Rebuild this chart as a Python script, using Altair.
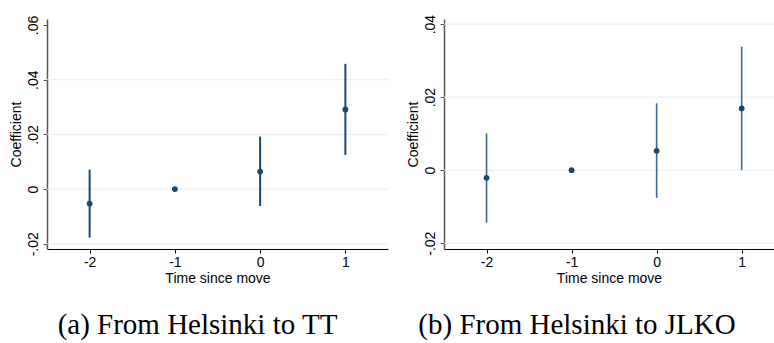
import altair as alt
import pandas as pd

# ---- data ----
periods = [-2, -1, 0, 1]

left_coef = [-0.0053, 0.0, 0.0064, 0.0291]
left_lo = [-0.0177, 0.0, -0.0062, 0.0125]
left_hi = [0.0071, 0.0, 0.0192, 0.0458]

right_coef = [-0.0021, 0.0, 0.0053, 0.0169]
right_lo = [-0.0144, 0.0, -0.0076, 0.0000]
right_hi = [0.0101, 0.0, 0.0183, 0.0338]

left_yticks = [-0.02, 0, 0.02, 0.04, 0.06]
left_grid = [-0.02, 0, 0.02, 0.04]
right_yticks = [-0.02, 0, 0.02, 0.04]
right_grid = [-0.02, 0, 0.02, 0.04]
xticks = [-2, -1, 0, 1]

left_caption = "(a) From Helsinki to TT"
right_caption = "(b) From Helsinki to JLKO"

NAVY = "#1a476f"
SANS = "Liberation Sans"
SERIF = "Liberation Serif"

ylabel_expr = ("datum.value == 0 ? '0' : (datum.value < 0 ? '-' : '') + "
               "replace(format(abs(datum.value), '.2f'), '0.', '.')")
xlabel_expr = "(datum.value < 0 ? '-' : '') + format(abs(datum.value), 'd')"


def panel(coef, lo, hi, ydom, yticks, grid_vals, xdom, width, caption, cap_dx,
          rule_color, rule_w):
    df = pd.DataFrame({"t": periods, "b": coef, "lo": lo, "hi": hi})
    gdf = pd.DataFrame({"g": grid_vals})
    xs = alt.Scale(domain=xdom, nice=False, zero=False)
    ys = alt.Scale(domain=ydom, nice=False, zero=False)

    yaxis = alt.Axis(
        values=yticks,
        labelExpr=ylabel_expr,
        title="Coefficient",
        grid=False,
        domainColor="#555555",
        domainWidth=1.5,
        tickColor="#555555",
        tickSize=4,
        labelAngle=270,
        labelAlign="center",
        labelBaseline="bottom",
        labelFontSize=14,
        labelPadding=3,
        titleFontSize=14,
        titlePadding=3,
        titleFontWeight="normal",
    )
    xaxis = alt.Axis(
        values=xticks,
        labelExpr=xlabel_expr,
        title="Time since move",
        grid=False,
        domainColor="#000000",
        tickColor="#000000",
        tickSize=4,
        labelFontSize=14,
        labelPadding=2,
        titleFontSize=14,
        titlePadding=2,
        titleFontWeight="normal",
    )

    grid = alt.Chart(gdf).mark_rule(color="#e6eef1", strokeWidth=1).encode(
        y=alt.Y("g:Q", scale=ys, axis=yaxis)
    )
    rules = alt.Chart(df).mark_rule(color=rule_color, strokeWidth=rule_w).encode(
        x=alt.X("t:Q", scale=xs, axis=xaxis),
        y=alt.Y("lo:Q", scale=ys, axis=yaxis),
        y2="hi:Q",
    )
    pts = alt.Chart(df).mark_circle(color=NAVY, opacity=1, size=34).encode(
        x=alt.X("t:Q", scale=xs, axis=xaxis),
        y=alt.Y("b:Q", scale=ys, axis=yaxis),
    )
    return alt.layer(grid, rules, pts).properties(
        width=width,
        height=230,
        title=alt.TitleParams(
            caption,
            orient="bottom",
            anchor="middle",
            font=SERIF,
            fontSize=29,
            fontWeight="normal",
            color="#000000",
            offset=26,
            dx=cap_dx,
        ),
    )


left = panel(left_coef, left_lo, left_hi, [-0.0219, 0.0622], left_yticks, left_grid,
             [-2.5, 1.5], 341, left_caption, -20, NAVY, 2)
right = panel(right_coef, right_lo, right_hi, [-0.0216, 0.0414], right_yticks, right_grid,
              [-2.5, 1.38], 330, right_caption, -32, "#3d6690", 1.6)

chart = (
    alt.hconcat(left, right, spacing=56, bounds="flush")
    .properties(
        autosize=alt.AutoSizeParams(type="none"),
        padding={"left": 47, "top": 19, "right": 727, "bottom": 324},
        background="white",
    )
    .configure_view(stroke=None)
    .configure_axis(labelFont=SANS, titleFont=SANS, labelColor="#000000", titleColor="#000000")
)

chart.save("out.html", embed_options={"renderer": "svg", "actions": False})
